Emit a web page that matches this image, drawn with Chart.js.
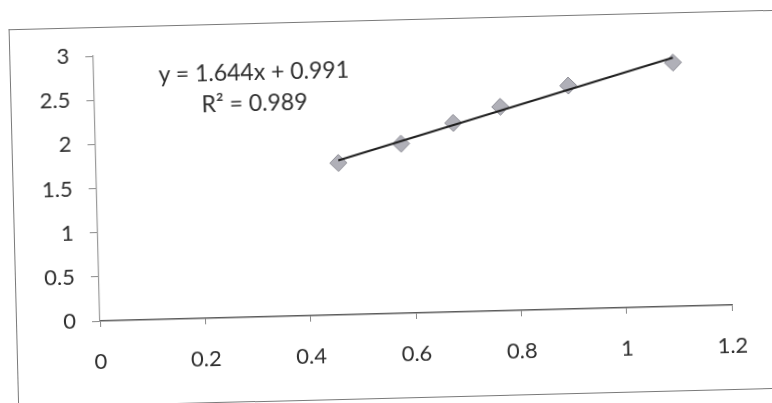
<!DOCTYPE html>
<html>
<head>
<meta charset="utf-8">
<script src="https://cdn.jsdelivr.net/npm/chart.js@4.4.1/dist/chart.umd.min.js"></script>
<style>
  html, body { margin: 0; padding: 0; background: #fff; overflow: hidden; }
  #sheet {
    position: absolute; left: 0; top: 0; width: 900px; height: 460px;
    transform-origin: 100px 321px;
    transform: rotate(-1.45deg); /* the scan is slightly tilted */
  }
  #frame {
    position: absolute; left: 16px; top: 27px; width: 880px; height: 377px;
    border-left: 1.5px solid #7a7a7a; border-top: 1.5px solid #7a7a7a; border-bottom: 1.5px solid #7a7a7a;
  }
  .eq {
    position: absolute; left: 150px; width: 220px; text-align: center;
    font-family: Lato, sans-serif; font-size: 23px; color: #2e2e2e; line-height: 26px;
  }
  #chart { position: absolute; left: 0; top: 0; }
</style>
</head>
<body>
<div id="sheet">
  <div id="frame"></div>
  <canvas id="chart" width="772" height="403"></canvas>
  <div class="eq" style="top:62px">y = 1.644x + 0.991</div>
  <div class="eq" style="top:93px">R² = 0.989</div>
</div>
<script>
const xValues = [0.46, 0.58, 0.68, 0.77, 0.90, 1.10];
const yValues = [1.72, 1.92, 2.14, 2.31, 2.53, 2.76];
const xTicks = [0, 0.2, 0.4, 0.6, 0.8, 1, 1.2];
const yTicks = [0, 0.5, 1, 1.5, 2, 2.5, 3];

// least squares fit for the trendline
const n = xValues.length;
const mx = xValues.reduce((a, b) => a + b, 0) / n;
const my = yValues.reduce((a, b) => a + b, 0) / n;
let sxy = 0, sxx = 0;
xValues.forEach((x, i) => { sxy += (x - mx) * (yValues[i] - my); sxx += (x - mx) * (x - mx); });
const slope = sxy / sxx;
const icpt = my - slope * mx;
const xMin = Math.min(...xValues), xMax = Math.max(...xValues);

const tickFont = { family: "Lato", size: 22 };

const ctx = document.getElementById("chart").getContext("2d");
new Chart(ctx, {
  type: "scatter",
  data: {
    datasets: [
      {
        label: "trend",
        type: "line",
        data: [{ x: xMin, y: slope * xMin + icpt }, { x: xMax, y: slope * xMax + icpt }],
        borderColor: "#1e1e1e",
        borderWidth: 2,
        pointRadius: 0,
        order: 0,
      },
      {
        label: "data",
        data: xValues.map((x, i) => ({ x: x, y: yValues[i] })),
        pointStyle: "rectRot",
        pointRadius: 8.5,
        backgroundColor: "#b0b0b8",
        borderColor: "#8e8e96",
        borderWidth: 1,
        order: 1,
      },
    ],
  },
  options: {
    responsive: false,
    animation: false,
    devicePixelRatio: 1,
    layout: { padding: { top: 56, right: 40, left: 0, bottom: 0 } },
    plugins: { legend: { display: false }, tooltip: { enabled: false } },
    scales: {
      x: {
        type: "linear",
        min: xTicks[0],
        max: xTicks[xTicks.length - 1],
        afterBuildTicks: (s) => { s.ticks = xTicks.map((v) => ({ value: v })); },
        afterFit: (s) => { s.height = 82; },
        border: { display: true, color: "#5a5a5a", width: 1.5 },
        grid: { drawOnChartArea: false, drawTicks: true, tickLength: 6, color: "#8a8a8a" },
        ticks: { font: tickFont, color: "#2e2e2e", padding: 22, maxRotation: 0, callback: (v) => String(+v.toFixed(1)) },
      },
      y: {
        type: "linear",
        min: yTicks[0],
        max: yTicks[yTicks.length - 1],
        afterBuildTicks: (s) => { s.ticks = yTicks.map((v) => ({ value: v })); },
        afterFit: (s) => { s.width = 100; },
        border: { display: true, color: "#9a9a9a", width: 1.2 },
        grid: { drawOnChartArea: false, drawTicks: true, tickLength: 8, color: "#8a8a8a" },
        ticks: { font: tickFont, color: "#2e2e2e", padding: 16, callback: (v) => String(+v.toFixed(1)) },
      },
    },
  },
});
</script>
</body>
</html>
